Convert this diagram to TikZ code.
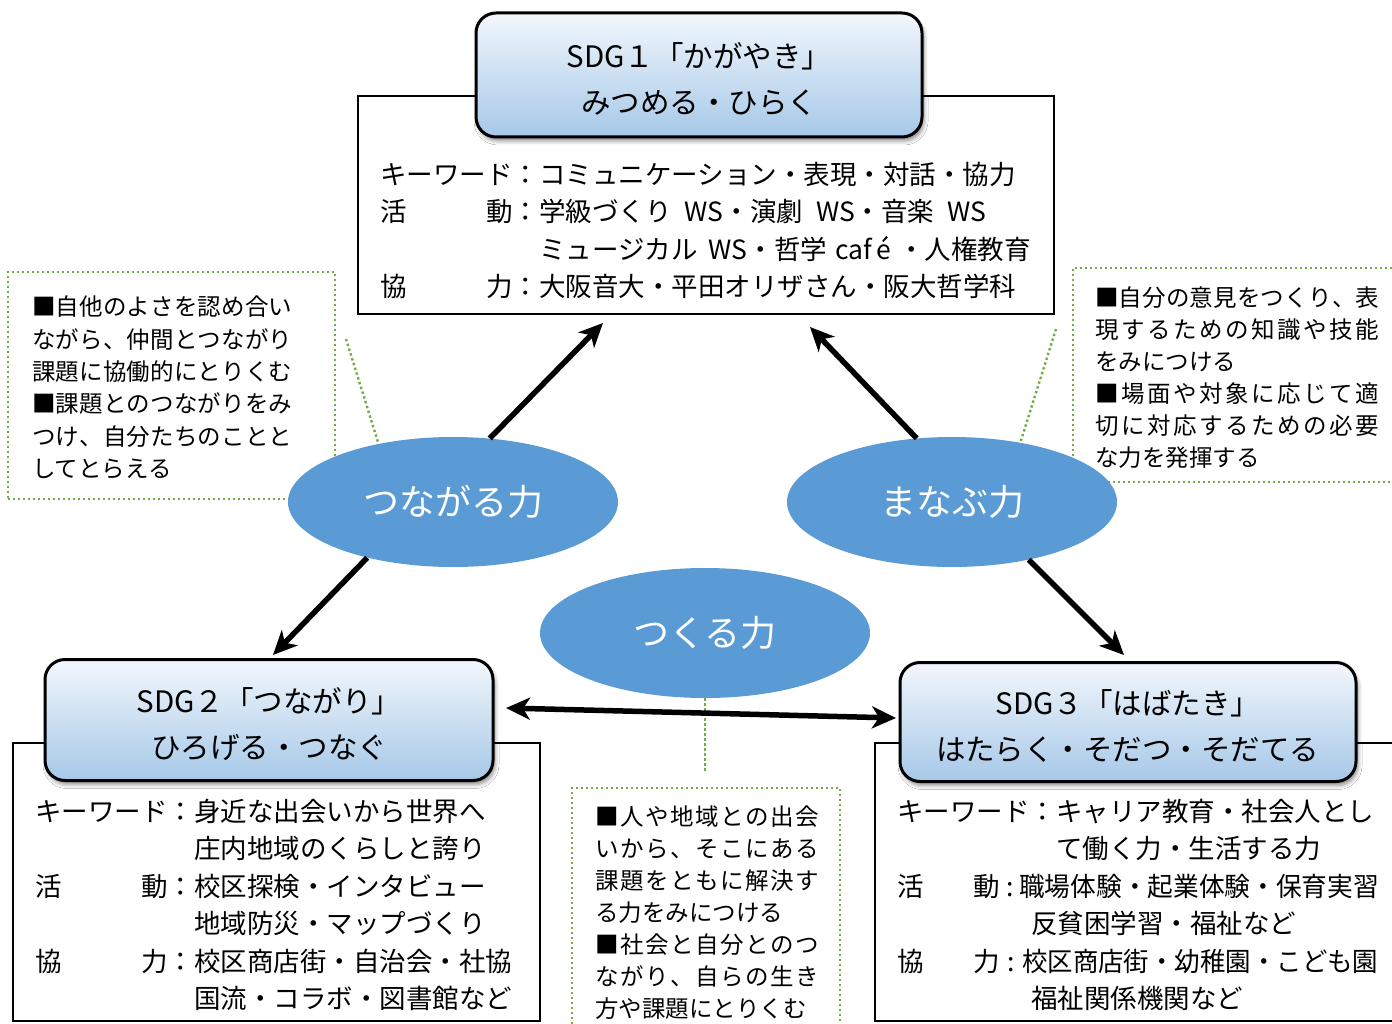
\documentclass[tikz,border=0pt]{standalone}
\usepackage{fontspec}
\setmainfont{Noto Sans CJK JP}
\usetikzlibrary{shapes.geometric,arrows.meta,shadows.blur}
\definecolor{ellblue}{HTML}{5B9BD5}
\definecolor{dotgreen}{HTML}{70AD47}
\definecolor{tboxtop}{HTML}{F2F7FC}
\definecolor{tboxbot}{HTML}{A6C8E8}
\newcommand\fcont{\fontsize{26.5}{37.5}\selectfont}
\newcommand\fnote{\fontsize{23.5}{32}\selectfont}
\newcommand\ftitle{\fontsize{29.5}{46}\selectfont}
\newcommand\fell{\fontsize{36}{40}\selectfont}
\makeatletter
\def\jsp@end{\jsp@end}
\def\jsp@#1{\ifx\jsp@end#1\unskip\else#1\hskip 0pt plus 1fil\relax\expandafter\jsp@\fi}
\newcommand\spreadto[2]{\hbox to #1{\jsp@#2\jsp@end}}
\makeatother
\begin{document}
\begin{tikzpicture}[x=1pt,y=-1pt,
  ct/.style={anchor=base west, inner sep=0pt, font=\fcont},
  nt/.style={anchor=base west, inner sep=0pt, font=\fnote},
  contentbox/.style={draw=black, line width=1.6pt, fill=white, anchor=north west, inner sep=0pt, outer sep=0pt},
  notebox/.style={draw=dotgreen, line width=2.4pt, dash pattern=on 2.4pt off 2.6pt, fill=white, anchor=north west, inner sep=0pt, outer sep=0pt},
  callout/.style={draw=dotgreen, line width=2.4pt, dash pattern=on 2.4pt off 2.6pt},
  titlebox/.style={draw=black, line width=3pt, rounded corners=20pt, top color=tboxtop, bottom color=tboxbot, inner sep=0pt,
    blur shadow={shadow xshift=2pt, shadow yshift=-4pt, shadow blur radius=4pt, shadow opacity=45}},
  titletext/.style={align=center, font=\ftitle, inner sep=0pt, yshift=-4pt},
  power/.style={ellipse, fill=ellblue, minimum width=330pt, minimum height=130pt, inner sep=0pt, text=white, font=\fell},
  bigarrow/.style={line width=5.5pt, -{Stealth[length=24pt,width=22pt,inset=7pt]}},
  twoarrow/.style={line width=5.5pt, {Stealth[length=24pt,width=22pt,inset=7pt]}-{Stealth[length=24pt,width=22pt,inset=7pt]}},
]
\useasboundingbox (0,0) rectangle (1392,1024);
\clip (0,0) rectangle (1392,1024);

% content frames
\node[contentbox, minimum width=696pt, minimum height=218pt] (c1) at (358,96) {};
\node[contentbox, minimum width=527pt, minimum height=278pt] (c2) at (13,743) {};
\node[contentbox, minimum width=540pt, minimum height=278pt] (c3) at (875,743) {};

% title boxes
\node[titlebox, minimum width=446pt, minimum height=124pt] (s1) at (699,75) {};
\node[titlebox, minimum width=448pt, minimum height=121pt] (s2) at (269,720) {};
\node[titlebox, minimum width=456pt, minimum height=119pt] (s3) at (1128,722) {};
\node[titletext] (s1t) at (s1) {SDG１「かがやき」\\みつめる・ひらく};
\node[titletext] (s2t) at (s2) {SDG２「つながり」\\ひろげる・つなぐ};
\node[titletext] (s3t) at (s3) {SDG３「はばたき」\\はたらく・そだつ・そだてる};

% note boxes
\node[notebox, minimum width=327pt, minimum height=227pt] (nb1) at (8,272) {};
\node[notebox, minimum width=340pt, minimum height=214pt] (nb2) at (1073,268) {};
\node[notebox, minimum width=268pt, minimum height=260pt] (nb3) at (572,788) {};

% ellipses
\node[power] (e1) at (453,502) {つながる力};
\node[power] (e2) at (952,502) {まなぶ力};
\node[power] (e3) at (705,633) {つくる力};

% callout lines
\coordinate (k1) at (346,339);
\coordinate (k2) at (1056,329);
\coordinate (k3) at (705,772);
\draw[callout] (k1) -- (e1.142);
\draw[callout] (k2) -- (e2.41);
\draw[callout] (e3.south) -- (k3);

% arrows
\coordinate (a1) at (603,323);
\coordinate (a2) at (273,655);
\coordinate (a3) at (810,327);
\coordinate (a4) at (1124,655);
\coordinate (d1) at (506,708);
\coordinate (d2) at (896,718);
\draw[bigarrow] (e1.60) -- (a1);
\draw[bigarrow] (e1.213) -- (a2);
\draw[bigarrow] (e2.119) -- (a3);
\draw[bigarrow] (e2.-37) -- (a4);
\draw[twoarrow] (d1) -- (d2);

% top content text
\node[ct] (t1a) at (380,185) {キーワード：コミュニケーション・表現・対話・協力};
\node[ct] (t1b) at (380,222) {\hbox to 159pt{活\hfill 動：}学級づくり\kern13pt WS・演劇\kern13pt WS・音楽\kern13pt WS};
\node[ct] (t1c) at (539,260) {ミュージカル\kern11pt WS・哲学\kern8pt caf\kern5pt é\kern7pt・人権教育};
\node[ct] (t1d) at (380,297) {\hbox to 159pt{協\hfill 力：}大阪音大・平田オリザさん・阪大哲学科};

% bottom-left content text
\node[ct] (t2a) at (35,821) {キーワード：身近な出会いから世界へ};
\node[ct] (t2b) at (194,858) {庄内地域のくらしと誇り};
\node[ct] (t2c) at (35,896) {\hbox to 159pt{活\hfill 動：}校区探検・インタビュー};
\node[ct] (t2d) at (194,933) {地域防災・マップづくり};
\node[ct] (t2e) at (35,971) {\hbox to 159pt{協\hfill 力：}校区商店街・自治会・社協};
\node[ct] (t2f) at (194,1008) {国流・コラボ・図書館など};

% bottom-right content text
\node[ct] (t3a) at (897,821) {キーワード：キャリア教育・社会人とし};
\node[ct] (t3b) at (1056,858) {て働く力・生活する力};
\node[ct] (t3c) at (897,896) {\hbox to 103pt{活\hfill 動}\hbox to 19pt{\hss :\hss}\scalebox{0.97}[1]{職場体験・起業体験・保育実習}};
\node[ct] (t3d) at (1031,933) {反貧困学習・福祉など};
\node[ct] (t3e) at (897,971) {\hbox to 103pt{協\hfill 力}\hbox to 22pt{\hss :\hss}\scalebox{0.96}[1]{校区商店街・幼稚園・こども園}};
\node[ct] (t3f) at (1031,1008) {福祉関係機関など};

% left note text
\node[nt] (n1a) at (32,316) {\spreadto{260pt}{■自他のよさを認め合い}};
\node[nt] (n1b) at (32,348) {\spreadto{260pt}{ながら、仲間とつながり}};
\node[nt] (n1c) at (32,380) {\spreadto{260pt}{課題に協働的にとりくむ}};
\node[nt] (n1d) at (32,412) {\spreadto{260pt}{■課題とのつながりをみ}};
\node[nt] (n1e) at (32,445) {\spreadto{260pt}{つけ、自分たちのことと}};
\node[nt] (n1f) at (32,477) {してとらえる};

% right note text
\node[nt] (n2a) at (1095,306) {\spreadto{284pt}{■自分の意見をつくり、表}};
\node[nt] (n2b) at (1095,338) {\spreadto{284pt}{現するための知識や技能}};
\node[nt] (n2c) at (1095,370) {をみにつける};
\node[nt] (n2d) at (1095,402) {\spreadto{284pt}{■場面や対象に応じて適}};
\node[nt] (n2e) at (1095,434) {\spreadto{284pt}{切に対応するための必要}};
\node[nt] (n2f) at (1095,466) {な力を発揮する};

% centre note text
\node[nt] (n3a) at (595,825) {\spreadto{224pt}{■人や地域との出会}};
\node[nt] (n3b) at (595,857) {\spreadto{224pt}{いから、そこにある}};
\node[nt] (n3c) at (595,889) {\spreadto{224pt}{課題をともに解決す}};
\node[nt] (n3d) at (595,921) {る力をみにつける};
\node[nt] (n3e) at (595,953) {\spreadto{224pt}{■社会と自分とのつ}};
\node[nt] (n3f) at (595,985) {\spreadto{224pt}{ながり、自らの生き}};
\node[nt] (n3g) at (595,1017) {方や課題にとりくむ};
\end{tikzpicture}
\end{document}
